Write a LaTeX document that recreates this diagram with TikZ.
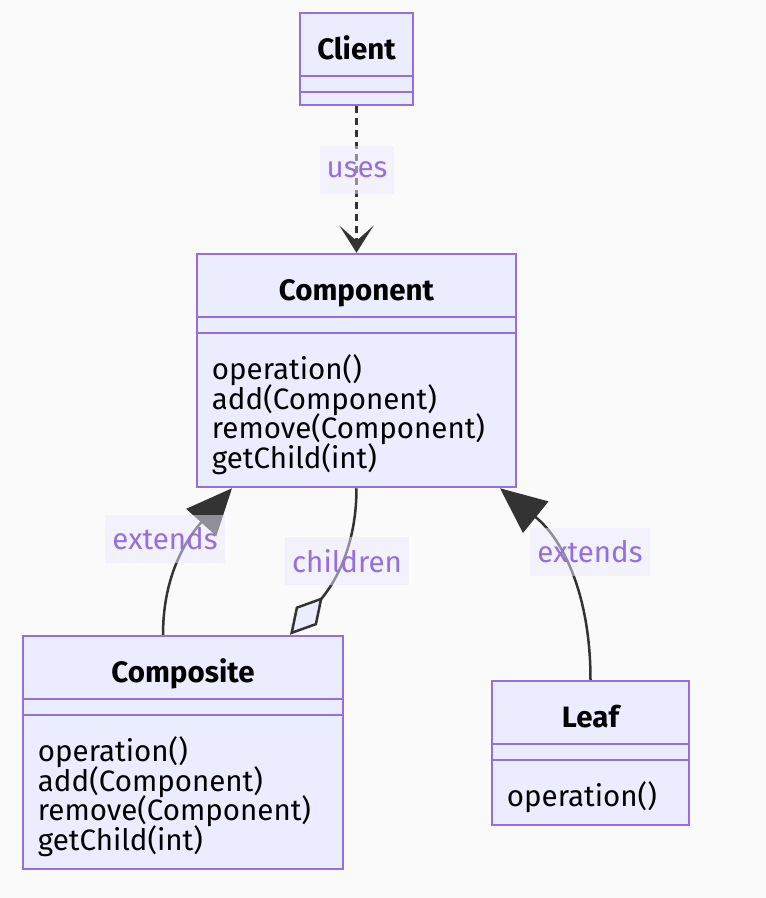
\documentclass[tikz,border=0pt]{standalone}
\usepackage{fontspec}
\setmainfont{Fira Sans}
\usetikzlibrary{arrows.meta, positioning}
\definecolor{classborder}{HTML}{9370DB}
\definecolor{classfill}{HTML}{ECECFF}
\definecolor{edgecol}{HTML}{333333}
\definecolor{labelbg}{HTML}{ECEAFF}
\definecolor{pagebg}{HTML}{FAFAFA}
\setlength{\lineskiplimit}{-40pt}
\tikzset{
    classbox/.style={draw=classborder, fill=classfill, line width=2.5pt, inner sep=0pt},
    classline/.style={draw=classborder, line width=2.5pt},
    title/.style={font=\bfseries\fontsize{29.5}{29.5}\selectfont, inner sep=0pt, anchor=base},
    methods/.style={font=\fontsize{29.5}{29.5}\selectfont,
        align=left, inner sep=0pt, anchor=north west},
    elabel/.style={font=\fontsize{29.5}{29.5}\selectfont, text=classborder, fill=labelbg,
        fill opacity=0.5, text opacity=1, inner xsep=7pt, minimum height=48pt},
    dep/.style={edgecol, line width=2.5pt, dash pattern=on 7pt off 5pt,
        -{Stealth[length=27pt, width=34pt, inset=15pt]}},
    ext/.style={edgecol, line width=2.5pt, -{Triangle[length=46pt, width=40pt]}},
    aggr/.style={edgecol, line width=2.5pt, {Diamond[fill=classfill, length=50pt, width=28pt]}-}
}

\begin{document}
\begin{tikzpicture}[x=1pt, y=1pt]
    \fill[pagebg] (0,0) rectangle (766,-898);
    \useasboundingbox (0,0) rectangle (766,-898);

    % classes
    \node[classbox, minimum width=113pt, minimum height=92pt] (client) at (356.5,-59) {};
    \node[classbox, minimum width=319pt, minimum height=233pt] (component) at (356.5,-370.5) {};
    \node[classbox, minimum width=320pt, minimum height=233pt] (composite) at (183,-752.5) {};
    \node[classbox, minimum width=197pt, minimum height=144pt] (leaf) at (590.5,-753) {};

    \foreach \b in {client, component, composite, leaf} {
        \draw[classline] ([yshift=-64pt]\b.north west) -- ([yshift=-64pt]\b.north east);
        \draw[classline] ([yshift=-80pt]\b.north west) -- ([yshift=-80pt]\b.north east);
    }

    \node[title] (clientname) at ([yshift=-48pt]client.north) {Client};
    \node[title] (componentname) at ([yshift=-48pt]component.north) {Component};
    \node[title] (compositename) at ([yshift=-48pt]composite.north) {Composite};
    \node[title] (leafname) at ([yshift=-48pt]leaf.north) {Leaf};

    \node[methods] (componentops) at ([xshift=16pt, yshift=-102pt]component.north west)
        {\strut operation()\\add(Component)\\remove(Component)\\getChild(int)};
    \node[methods] (compositeops) at ([xshift=16pt, yshift=-102pt]composite.north west)
        {\strut operation()\\add(Component)\\remove(Component)\\getChild(int)};
    \node[methods] (leafops) at ([xshift=16pt, yshift=-102pt]leaf.north west)
        {\strut operation()};

    % relations
    \draw[dep] (client.south) -- (component.north);
    \draw[ext] ([xshift=-20pt]composite.north) to[out=90, in=-132] ([xshift=-124.5pt]component.south);
    \draw[aggr] ([xshift=107pt]composite.north) to[out=49, in=-90] (component.south);
    \draw[ext] (leaf.north) to[out=90, in=-39] ([xshift=143.5pt]component.south);

    \node[elabel] (useslabel) at (357,-170) {uses};
    \node[elabel] (extendsleft) at (165,-539) {extends};
    \node[elabel] (childrenlabel) at (347,-561) {children};
    \node[elabel] (extendsright) at (590,-552) {extends};
\end{tikzpicture}
\end{document}
